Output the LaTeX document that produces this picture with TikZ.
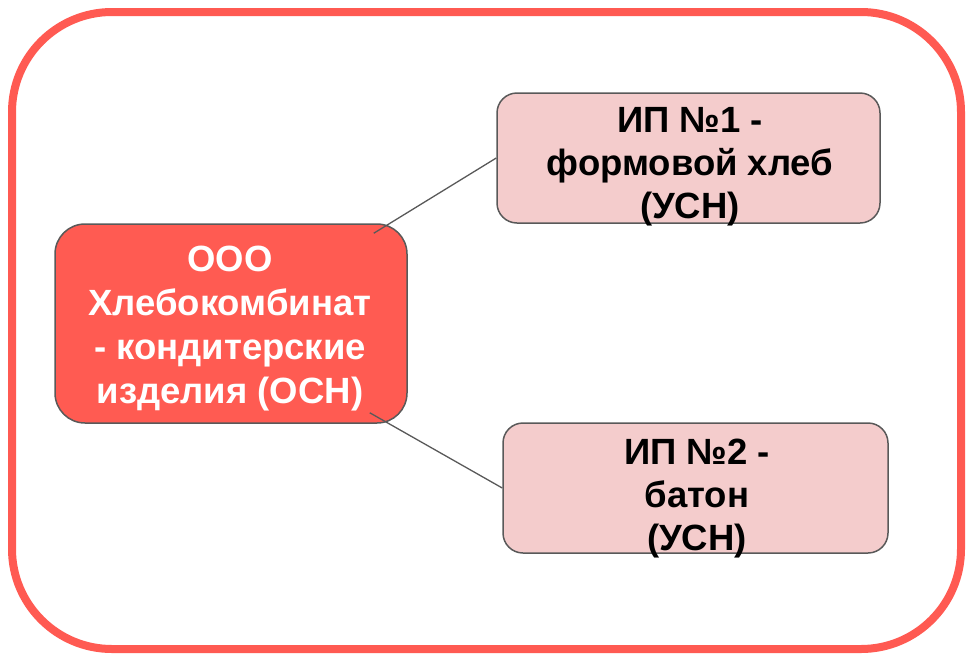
\documentclass[tikz,border=0pt]{standalone}
\usepackage{fontspec}
\setmainfont{Liberation Sans}
\usetikzlibrary{calc}
\definecolor{outerred}{HTML}{FF5A52}
\definecolor{mainred}{HTML}{FF5B52}
\definecolor{pinkfill}{HTML}{F4CCCC}
\definecolor{edgegray}{HTML}{595959}
\tikzset{
  frame/.style={draw=outerred, line width=8pt, rounded corners=100pt},
  mainbox/.style={draw=edgegray, line width=1.5pt, fill=mainred, rounded corners=30pt, inner sep=0pt},
  ipbox/.style={draw=edgegray, line width=1.5pt, fill=pinkfill, rounded corners=20pt, inner sep=0pt},
  maintext/.style={text=white, font={\bfseries\fontsize{36.5}{44}\selectfont}, align=center, inner sep=0pt, anchor=north},
  iptext/.style={text=black, font={\bfseries\fontsize{36.5}{43}\selectfont}, align=center, inner sep=0pt, anchor=north},
  link/.style={draw=edgegray, line width=1.3pt}
}
\begin{document}
\begin{tikzpicture}[x=1pt, y=-1pt]
\useasboundingbox (0,0) rectangle (966,654);
\draw[frame] (12,12) rectangle (961,649);
\node[mainbox, minimum width=352pt, minimum height=199pt] (ooo) at (231,323.5) {};
\node[maintext] (ooot) at (230,246) {ООО\\Хлебокомбинат\\- кондитерские\\изделия (ОСН)};
\node[ipbox, minimum width=383pt, minimum height=130pt] (ip1) at (688.5,158) {};
\node[iptext] (ip1t) at (690,107) {ИП №1 -\\формовой хлеб\\(УСН)};
\node[ipbox, minimum width=385pt, minimum height=130pt] (ip2) at (695.5,488) {};
\node[iptext] (ip2t) at (697,439) {ИП №2 -\\батон\\(УСН)};
\draw[link] ($(ooo.north east)+(-34,10)$) -- (ip1.west);
\draw[link] ($(ooo.south east)+(-38,-11)$) -- (ip2.west);
\end{tikzpicture}
\end{document}
